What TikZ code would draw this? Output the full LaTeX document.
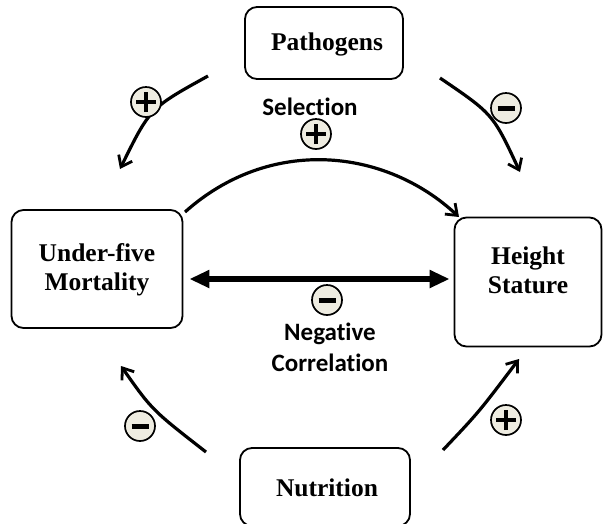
\documentclass[tikz,border=0pt]{standalone}
\usepackage{fontspec}
\setmainfont{Liberation Serif}
\newfontfamily\lblfont[Ligatures={NoCommon}]{Carlito}
\usetikzlibrary{arrows.meta}
\definecolor{signfill}{HTML}{EEECE1}
\tikzset{
  box/.style={draw, line width=1.8pt, rounded corners=12pt},
  boxtxt/.style={align=center, inner sep=0pt, font=\fontsize{25.5}{29}\selectfont\bfseries},
  lbl/.style={align=center, inner sep=0pt, font=\lblfont\fontsize{25}{31}\selectfont\bfseries},
  flow/.style={line width=3.2pt, -{Straight Barb[length=10pt,width=15pt,line width=2.8pt]}},
  signc/.style={circle, draw, line width=1.7pt, fill=signfill, minimum size=30pt, inner sep=0pt},
  plussign/.style={signc, path picture={\draw[line width=3.6pt]
     ([xshift=-10pt]path picture bounding box.center) -- ([xshift=10pt]path picture bounding box.center)
     ([yshift=-10pt]path picture bounding box.center) -- ([yshift=10pt]path picture bounding box.center);}},
  minussign/.style={signc, path picture={\draw[line width=5pt]
     ([xshift=-8.5pt]path picture bounding box.center) -- ([xshift=8.5pt]path picture bounding box.center);}},
}
\begin{document}
\begin{tikzpicture}[x=1pt,y=-1pt]
\useasboundingbox (0,0) rectangle (616,523);
% boxes
\node[box, minimum width=158pt, minimum height=72pt] (path) at (324,43) {};
\node[boxtxt] (pathtxt) at (327,44) {Pathogens};
\node[box, minimum width=171pt, minimum height=118pt] (mort) at (97,269) {};
\node[boxtxt] (morttxt) at (97,270) {Under-five\\Mortality};
\node[box, minimum width=147pt, minimum height=129pt] (height) at (528,282) {};
\node[boxtxt] (heighttxt) at (528,270) {Height\\Stature};
\node[box, minimum width=170pt, minimum height=78pt] (nut) at (325,487) {};
\node[boxtxt] (nuttxt) at (327,488) {Nutrition};
% labels
\node[lbl] (sel) at (310,107) {Selection};
\node[lbl] (neg) at (330,347) {Negative\\Correlation};
% endpoints
\coordinate (tl1) at (208,76);  \coordinate (tl2) at (120,169);
\coordinate (tr1) at (440,78);  \coordinate (tr2) at (520,172);
\coordinate (bl1) at (206,452); \coordinate (bl2) at (121,366);
\coordinate (br1) at (443,450); \coordinate (br2) at (519,359);
\coordinate (s1) at (185,212);  \coordinate (s2) at (459,217);
% connectors
\draw[flow] (tl1) .. controls (150,108) .. (tl2);
\draw[flow] (tr1) .. controls (493,114) .. (tr2);
\draw[flow] (bl1) .. controls (152,410) .. (bl2);
\draw[flow] (br1) .. controls (479,412) .. (br2);
\draw[flow] (s1) .. controls (270,136) and (385,148) .. (s2);
\path (mort.east |- 0,279) ++(6,0) coordinate (h1);
\path (height.west |- 0,279) ++(-4,0) coordinate (h2);
\draw[line width=6.5pt, {Triangle[length=20pt,width=17pt]}-{Triangle[length=20pt,width=17pt]}] (h1) -- (h2);
% signs
\node[plussign] (p1) at (146,102) {};
\node[plussign] (p2) at (316,134) {};
\node[minussign] (m1) at (506,108) {};
\node[minussign] (m2) at (327,300) {};
\node[minussign] (m3) at (140,426) {};
\node[plussign] (p3) at (506,420) {};
\end{tikzpicture}
\end{document}
